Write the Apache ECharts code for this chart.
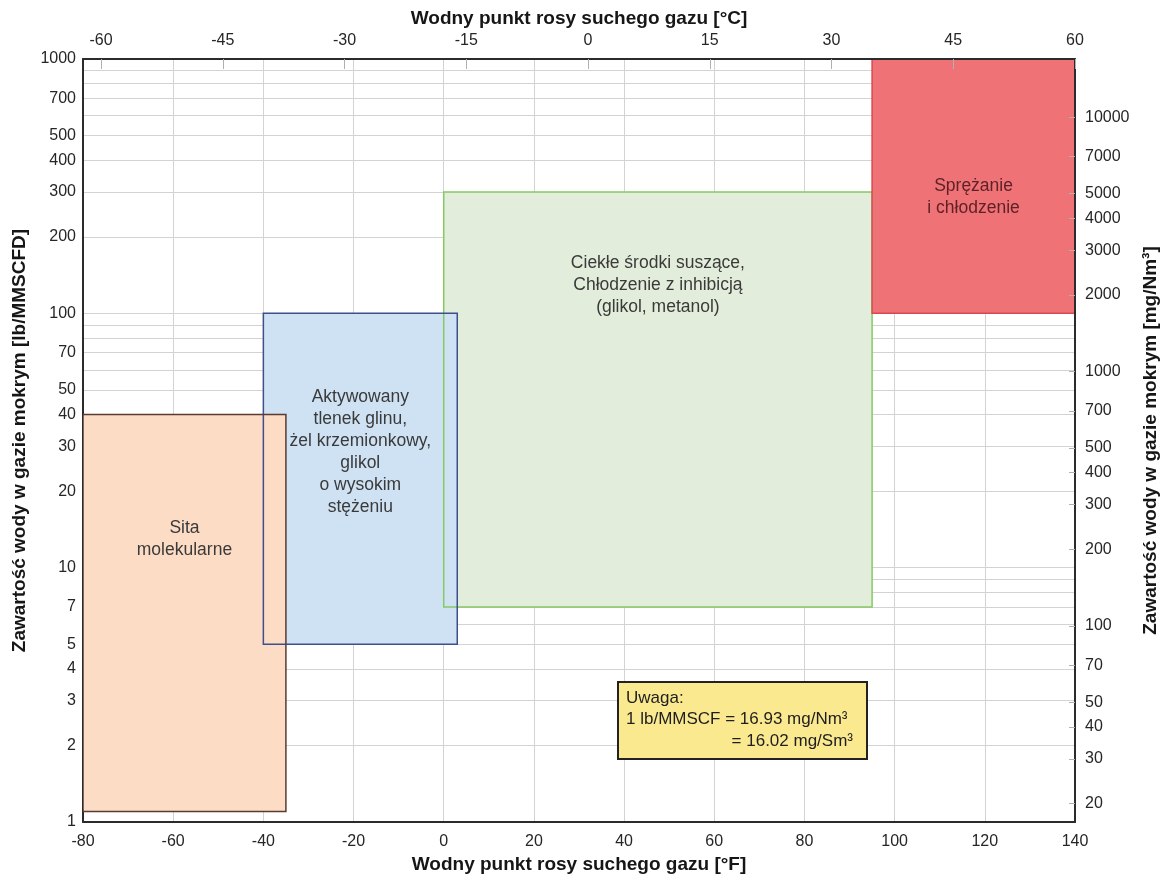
<!DOCTYPE html>
<html>
<head>
<meta charset="utf-8">
<title>Wodny punkt rosy suchego gazu</title>
<script src="https://cdn.jsdelivr.net/npm/echarts@6/dist/echarts.min.js"></script>
<style>
  html, body { margin: 0; padding: 0; background: #fff; }
  #main { width: 1168px; height: 874px; }
</style>
</head>
<body>
<div id="main"></div>
<script>
// obszary stosowania metod osuszania: x w °F, y w lb/MMSCFD
const regionNames = [
  'Ciekłe środki suszące,\nChłodzenie z inhibicją\n(glikol, metanol)',
  'Aktywowany\ntlenek glinu,\nżel krzemionkowy,\nglikol\no wysokim\nstężeniu',
  'Sita\nmolekularne',
  'Sprężanie\ni chłodzenie'
];
const dewFrom = [0, -40, -80, 95];
const dewTo = [95, 3, -35, 140];
const waterLow = [7, 5, 1.1, 100];
const waterHigh = [300, 100, 40, 1000];

// podziałki
const celsiusTicks = [-60, -45, -30, -15, 0, 15, 30, 45, 60];
const lbTicks = [1, 2, 3, 4, 5, 7, 10, 20, 30, 40, 50, 70, 100, 200, 300, 400, 500, 700, 1000];
const mgTicks = [20, 30, 40, 50, 70, 100, 200, 300, 400, 500, 700, 1000, 2000, 3000, 4000, 5000, 7000, 10000];

const LB_TO_MG = 16.93; // 1 lb/MMSCF = 16.93 mg/Nm3
const F_MIN = -80, F_MAX = 140;
const LB_MIN = 1, LB_MAX = 1000;

// wygląd prostokątów (kolejność jak w regionNames)
const regionStyle = [
  { fill: '#e3eddb', stroke: '#86c862', text: '#3a3a3a', ty: 0.224 },
  { fill: '#cfe2f3', stroke: '#3f4f8c', text: '#3a3a3a', ty: 0.42 },
  { fill: '#fcdcc4', stroke: '#5a3a32', text: '#3a3a3a', ty: 0.313 },
  { fill: '#ef7277', stroke: '#d9484e', text: '#5e2226', ty: 0.543 }
];

const FONT = '"Liberation Sans", Arial, sans-serif';
const gridLine = { show: true, lineStyle: { color: '#d3d3d3', width: 1 } };
const frame = { show: true, onZero: false, lineStyle: { color: '#2b2b2b', width: 2 } };
const tickLabel = { fontFamily: FONT, fontSize: 16, color: '#262626' };
const titleStyle = { fontFamily: FONT, fontSize: 19, fontWeight: 'bold', color: '#161616' };
const noteText = { fill: '#1e1e1e', fontFamily: FONT, fontSize: 17, verticalAlign: 'top' };

var chart = echarts.init(document.getElementById('main'));

var option = {
  animation: false,
  backgroundColor: '#fff',
  grid: { left: 83, right: 93, top: 59, bottom: 52, outerBoundsMode: 'none' },
  xAxis: [
    {
      type: 'value',
      position: 'bottom',
      min: F_MIN,
      max: F_MAX,
      interval: 20,
      name: 'Wodny punkt rosy suchego gazu [°F]',
      nameLocation: 'middle',
      nameGap: 30,
      nameTextStyle: titleStyle,
      axisLine: frame,
      axisTick: { show: false },
      axisLabel: Object.assign({ margin: 12 }, tickLabel),
      splitLine: gridLine
    },
    {
      type: 'value',
      position: 'top',
      min: (F_MIN - 32) * 5 / 9,
      max: (F_MAX - 32) * 5 / 9,
      z: 10,
      name: 'Wodny punkt rosy suchego gazu [°C]',
      nameLocation: 'middle',
      nameGap: 26,
      nameTextStyle: titleStyle,
      axisLine: frame,
      axisTick: { show: true, inside: true, length: 10, customValues: celsiusTicks, lineStyle: { color: '#b0b0b0' } },
      axisLabel: Object.assign({ margin: 10, customValues: celsiusTicks }, tickLabel),
      splitLine: { show: false }
    }
  ],
  yAxis: [
    {
      type: 'log',
      logBase: 10,
      position: 'left',
      min: LB_MIN,
      max: LB_MAX,
      name: 'Zawartość wody w gazie mokrym [lb/MMSCFD]',
      nameLocation: 'middle',
      nameRotate: 90,
      nameGap: 52,
      nameTextStyle: titleStyle,
      axisLine: frame,
      axisTick: { show: false },
      axisLabel: Object.assign({ margin: 7, customValues: lbTicks, formatter: function (v) { return String(v); } }, tickLabel),
      splitLine: gridLine,
      minorTick: { show: false, splitNumber: 9 },
      minorSplitLine: gridLine
    },
    {
      type: 'log',
      logBase: 10,
      position: 'right',
      min: LB_MIN * LB_TO_MG,
      max: LB_MAX * LB_TO_MG,
      z: 10,
      name: 'Zawartość wody w gazie mokrym [mg/Nm³]',
      nameLocation: 'middle',
      nameRotate: 90,
      nameGap: 66,
      nameTextStyle: titleStyle,
      axisLine: frame,
      axisTick: { show: true, inside: true, length: 6, customValues: mgTicks, lineStyle: { color: '#b0b0b0' } },
      axisLabel: Object.assign({ margin: 10, customValues: mgTicks, formatter: function (v) { return String(v); } }, tickLabel),
      splitLine: { show: false }
    }
  ],
  series: [
    {
      type: 'custom',
      xAxisIndex: 0,
      yAxisIndex: 0,
      clip: true,
      encode: { x: [0, 1], y: [2, 3] },
      data: regionNames.map(function (n, i) {
        return [dewFrom[i], dewTo[i], waterLow[i], waterHigh[i]];
      }),
      renderItem: function (params, api) {
        var i = params.dataIndex;
        var st = regionStyle[i];
        var tl = api.coord([api.value(0), api.value(3)]);
        var br = api.coord([api.value(1), api.value(2)]);
        var shape = { x: tl[0], y: tl[1], width: br[0] - tl[0], height: br[1] - tl[1] };
        return {
          type: 'group',
          children: [
            { type: 'rect', shape: shape, style: { fill: st.fill }, z2: 1 },
            { type: 'rect', shape: shape, style: { fill: 'none', stroke: st.stroke, lineWidth: 1.5 }, z2: 10 },
            {
              type: 'text',
              x: shape.x + shape.width / 2,
              y: shape.y + shape.height * st.ty,
              z2: 20,
              style: {
                text: regionNames[i],
                fill: st.text,
                fontFamily: FONT,
                fontSize: 17.5,
                lineHeight: 22,
                align: 'center',
                verticalAlign: 'middle'
              }
            }
          ]
        };
      }
    }
  ],
  graphic: [
    {
      type: 'rect', left: 617, top: 681, z: 100,
      shape: { width: 249, height: 77 },
      style: { fill: '#fbe98f', stroke: '#222', lineWidth: 2 }
    },
    {
      type: 'text', left: 626, top: 690, z: 101,
      style: Object.assign({ text: 'Uwaga:' }, noteText)
    },
    {
      type: 'text', left: 626, top: 711, z: 101,
      style: Object.assign({ text: '1 lb/MMSCF = 16.93 mg/Nm³' }, noteText)
    },
    {
      type: 'text', right: 1168 - 853, top: 733, z: 101,
      style: Object.assign({ text: '= 16.02 mg/Sm³' }, noteText)
    }
  ]
};

chart.setOption(option);
</script>
</body>
</html>
